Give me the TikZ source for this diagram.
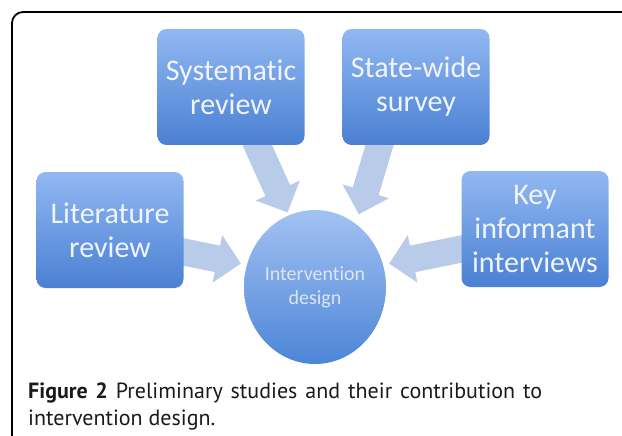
\documentclass[tikz,border=0pt]{standalone}
\usepackage{fontspec}
\setmainfont{Carlito}[Ligatures=NoCommon]
\newfontfamily\capfont{PT Sans}
\usetikzlibrary{arrows.meta,shapes.geometric}
\definecolor{boxtop}{HTML}{92B8F2}
\definecolor{boxbot}{HTML}{4A80D3}
\definecolor{circtop}{HTML}{A3C2F2}
\definecolor{circbot}{HTML}{4C85D7}
\definecolor{arrowc}{HTML}{B8CCEA}
\definecolor{boxtext}{HTML}{F0F4FB}
\definecolor{circtext}{HTML}{DCE6F6}
\definecolor{captext}{HTML}{1A1A1A}
\pgfdeclarelayer{bg}
\pgfsetlayers{bg,main}
\tikzset{
  stepbox/.style={rectangle, rounded corners=9pt, minimum width=147pt, minimum height=116pt,
    top color=boxtop, bottom color=boxbot, draw=none, text=boxtext,
    font=\fontsize{30}{34}\selectfont, align=center, inner sep=0pt},
  hub/.style={ellipse, minimum width=140pt, minimum height=154pt, inner sep=0pt,
    top color=circtop, bottom color=circbot, draw=none, text=circtext,
    font=\fontsize{20}{24}\selectfont, align=center},
  bigarrow/.style={draw=arrowc, line width=27pt, -{Triangle[width=47pt,length=24pt]}},
  capline/.style={anchor=base west, inner sep=0pt, text=captext, font=\capfont\fontsize{22}{27}\selectfont},
  frame/.style={draw=black, line width=1.8pt, rounded corners=11pt}
}
\begin{document}
\begin{tikzpicture}[x=1pt,y=-1pt]
\useasboundingbox (0,0) rectangle (622,436);
\draw[frame] (12,440) -- (12,12) -- (630,12);

\node[stepbox] (sys) at (231,87) {Systematic\\review};
\node[stepbox] (sws) at (416,87) {State-wide\\survey};
\node[stepbox] (lit) at (110,230) {Literature\\review};
\node[stepbox] (key) at (535,229) {Key\\informant\\interviews};
\node[hub] (int) at (315,287) {Intervention\\design};

\begin{pgfonlayer}{bg}
\draw[bigarrow, shorten >=3pt] ([xshift=24pt,yshift=5pt]sys.south) -- (int.110);
\draw[bigarrow, shorten >=10pt] ([xshift=-35pt,yshift=5pt]sws.south) -- (int.57);
\draw[bigarrow, shorten >=6pt] ([xshift=-5pt,yshift=-21pt]lit.east) -- (int.162);
\draw[bigarrow, shorten >=6pt] ([xshift=5pt,yshift=-19pt]key.west) -- (int.18);
\end{pgfonlayer}

\node[capline] (cap1) at (28,398) {\makebox[514pt][s]{\textbf{Figure 2} Preliminary studies and their contribution to}};
\node[capline] (cap2) at (28,425) {intervention design.};
\end{tikzpicture}
\end{document}
